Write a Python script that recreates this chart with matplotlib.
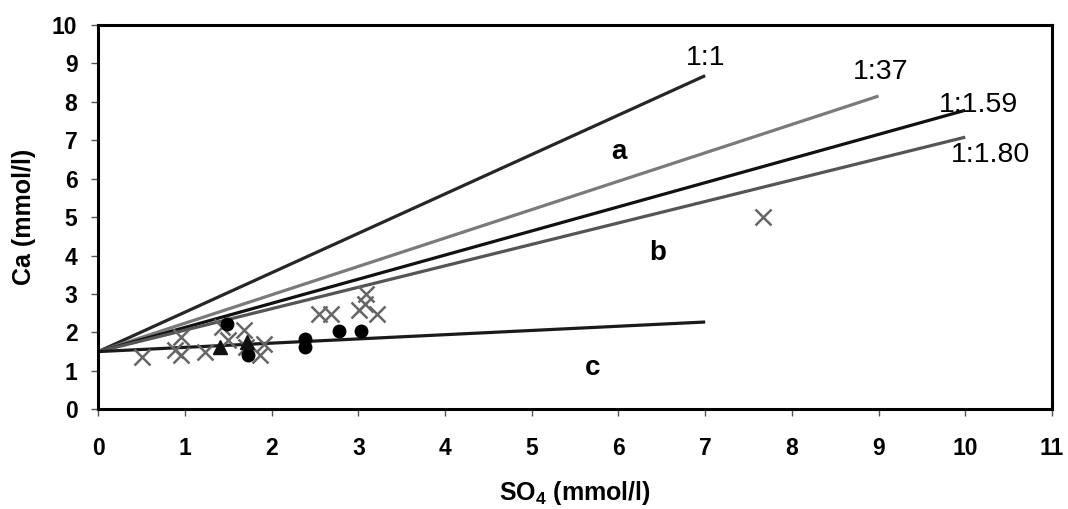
import matplotlib.pyplot as plt

plt.rcParams['font.family'] = ['Liberation Sans', 'DejaVu Sans']
plt.rcParams['mathtext.fontset'] = 'custom'
plt.rcParams['mathtext.rm'] = 'Liberation Sans'
plt.rcParams['mathtext.bf'] = 'Liberation Sans:bold'

# Data
cross_x = [0.50, 0.95, 0.89, 0.95, 1.23, 1.43, 1.50, 1.68, 1.70, 1.91, 1.87,
           2.55, 2.68, 3.09, 3.08, 3.01, 3.21, 7.67]
cross_y = [1.36, 1.88, 1.54, 1.41, 1.49, 2.14, 1.80, 2.06, 1.62, 1.71, 1.41,
           2.49, 2.49, 3.01, 2.75, 2.58, 2.49, 5.01]
circle_x = [1.48, 1.73, 2.39, 2.39, 2.78, 3.03]
circle_y = [2.21, 1.42, 1.84, 1.62, 2.04, 2.04]
tri_x = [1.40, 1.71]
tri_y = [1.62, 1.75]

# reference lines: start (0, 1.5) and end points
line_names = ['1:1', '1:37', '1:1.59', '1:1.80', 'c']
line_end_x = [7, 9, 10, 10, 7]
line_end_y = [8.68, 8.15, 7.78, 7.08, 2.27]
line_colors = ['#262626', '#7a7a7a', '#111111', '#555555', '#1a1a1a']
start_y = 1.5

fig = plt.figure(figsize=(10.68, 5.09), dpi=100)
ax = fig.add_axes([0.092, 0.196, 0.893, 0.755])

for name, ex, ey, c in zip(line_names, line_end_x, line_end_y, line_colors):
    ax.plot([0, ex], [start_y, ey], color=c, lw=2.3, solid_capstyle='butt')

ax.plot(cross_x, cross_y, 'x', color='#666666', ms=11, mew=1.8, ls='none')
ax.plot(circle_x, circle_y, 'o', color='black', ms=9, ls='none')
ax.plot(tri_x, tri_y, '^', color='#111111', ms=9.5, ls='none')

# ratio labels
ax.text(7.0, 9.14, '1:1', fontsize=20.5, ha='center', va='center')
ax.text(9.02, 8.78, '1:37', fontsize=20.5, ha='center', va='center')
ax.text(10.15, 7.92, '1:1.59', fontsize=20.5, ha='center', va='center')
ax.text(10.29, 6.61, '1:1.80', fontsize=20.5, ha='center', va='center')

# zone labels
ax.text(6.0, 6.69, 'a', fontsize=20, fontweight='bold', ha='center', va='center')
ax.text(6.45, 4.06, 'b', fontsize=20, fontweight='bold', ha='center', va='center')
ax.text(5.70, 1.07, 'c', fontsize=20, fontweight='bold', ha='center', va='center')

ax.set_xlim(0, 11)
ax.set_ylim(0, 10)
ax.set_xticks(range(0, 12))
ax.set_yticks(range(0, 11))
ax.tick_params(axis='both', direction='out', length=5, width=1, color='#555555',
               labelsize=16.5)
ax.tick_params(axis='x', pad=15)
ax.tick_params(axis='y', pad=10)
for lab in ax.get_xticklabels() + ax.get_yticklabels():
    lab.set_fontweight('bold')
for sp in ax.spines.values():
    sp.set_linewidth(2.2)
    sp.set_color('black')

ax.set_xlabel(r'SO$_\mathbf{4}$ (mmol/l)', fontsize=18, fontweight='bold', va='center')
ax.set_ylabel('Ca (mmol/l)', fontsize=18, fontweight='bold', va='center')
ax.xaxis.set_label_coords(0.5, -0.219)
ax.yaxis.set_label_coords(-0.078, 0.5)

plt.savefig('out.png', dpi=100)
